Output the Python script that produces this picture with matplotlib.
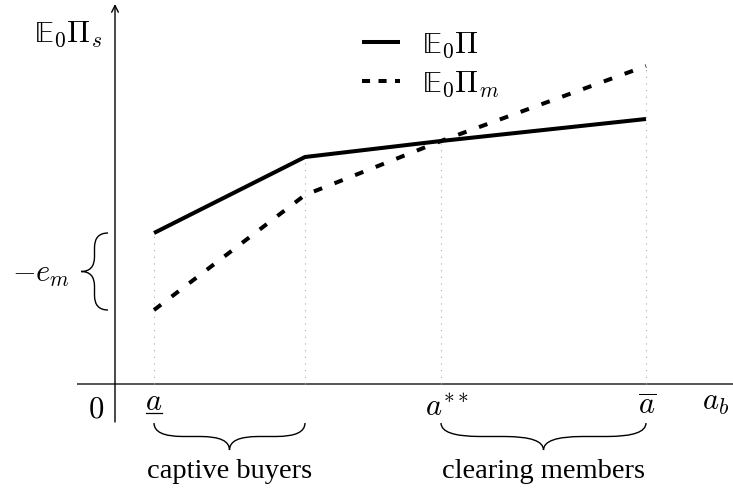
import matplotlib
matplotlib.use("Agg")
import matplotlib.pyplot as plt
from matplotlib.path import Path
from matplotlib.patches import PathPatch
from matplotlib.lines import Line2D
import numpy as np

plt.rcParams['font.family'] = 'serif'
plt.rcParams['font.serif'] = ['Liberation Serif', 'DejaVu Serif']
plt.rcParams['mathtext.fontset'] = 'cm'

# values (units: pixels from the origin)
x_pts = [39, 190, 326, 531]
y_total = [151, 227, 243, 265]      # E0 Pi
y_member = [74, 189, 243, 318]      # E0 Pi_m
tick_labels = ['$a$', r'$a^{**}$', r'$\overline{a}$']
tick_pos = [39, 332, 532]
groups = ['captive buyers', 'clearing members']
group_span = [(39, 190), (326, 531)]

MATH = 22
TEXT = 20.5
EE = r'\mathrm{\mathbb{E}}'


def brace(ax, p0, p1, depth, lw=1.0):
    """curly brace from p0 to p1, tip on the right-hand side of p0->p1"""
    p0 = np.array(p0, float)
    p1 = np.array(p1, float)
    u = p1 - p0
    L = np.hypot(*u)
    u = u / L
    n = np.array([u[1], -u[0]])
    h = L / 2
    q = depth / 2
    c = h * 0.38
    local = [(0, 0), (0, q), (c, q), (h - c, q), (h, q), (h, 2 * q),
             (h, q), (h + c, q), (L - c, q), (L, q), (L, 0)]
    codes = [Path.MOVETO, Path.CURVE3, Path.CURVE3, Path.LINETO,
             Path.CURVE3, Path.CURVE3, Path.CURVE3, Path.CURVE3,
             Path.LINETO, Path.CURVE3, Path.CURVE3]
    verts = [p0 + s * u + t * n for s, t in local]
    ax.add_patch(PathPatch(Path(verts, codes), fill=False, lw=lw, color='black'))


fig = plt.figure(figsize=(7.33, 4.91), dpi=100)
ax = fig.add_axes([0, 0, 1, 1])
ax.set_xlim(-115, 618)
ax.set_ylim(-107, 384)
ax.axis('off')

# axes
ax.plot([-38, 618], [0, 0], color='#555555', lw=1.4, solid_capstyle='butt')
ax.annotate('', xy=(0, 380), xytext=(0, -38),
            arrowprops=dict(arrowstyle='->', color='black', lw=1.0,
                            mutation_scale=12, shrinkA=0, shrinkB=0))

# dotted guides
for xv, a, b in zip(x_pts, y_total, y_member):
    ax.plot([xv, xv], [0, max(a, b)], color='#aaaaaa', lw=0.8, ls=(0, (1, 5)))

ax.plot(x_pts, y_total, color='black', lw=2.9, solid_capstyle='butt')
ax.plot(x_pts, y_member, color='black', lw=2.9, ls=(0, (2.2, 3.3)),
        dash_capstyle='butt')

handles = [Line2D([], [], color='black', lw=2.9, solid_capstyle='butt'),
           Line2D([], [], color='black', lw=2.9, ls=(0, (2, 2.1)), dash_capstyle='butt')]
ax.legend(handles, ['$' + EE + r'_0\Pi$', '$' + EE + r'_0\Pi_m$'],
          loc='upper left', bbox_to_anchor=(0.494, 0.938), frameon=False,
          fontsize=MATH, handlelength=1.24, handletextpad=0.72, labelspacing=0.3,
          borderpad=0, borderaxespad=0)

# tick labels
ax.text(-19, -34, '$0$', fontsize=MATH, ha='center', va='baseline')
baselines = [-26, -31, -31]
for xv, yb, lab in zip(tick_pos, baselines, tick_labels):
    ax.text(xv, yb, lab, fontsize=MATH, ha='center', va='baseline')
# underline for the lower bound
ax.plot([tick_pos[0] - 8, tick_pos[0] + 8], [-29, -29], color='black', lw=0.9)
ax.text(601, -26, '$a_b$', fontsize=MATH, ha='center', va='baseline')
ax.text(-47, 342, '$' + EE + r'_0\Pi_s$', fontsize=MATH, ha='center', va='baseline')

# -e_m brace
brace(ax, (-7, y_total[0]), (-7, y_member[0]), 27)
ax.text(-74, 102, '$-e_m$', fontsize=MATH, ha='center', va='baseline')

# group braces
for (a, b), g in zip(group_span, groups):
    brace(ax, (a, -39), (b, -39), 27)
    ax.text((a + b) / 2, -94, g, fontsize=TEXT, ha='center', va='baseline')

fig.savefig('out.png', dpi=100)
